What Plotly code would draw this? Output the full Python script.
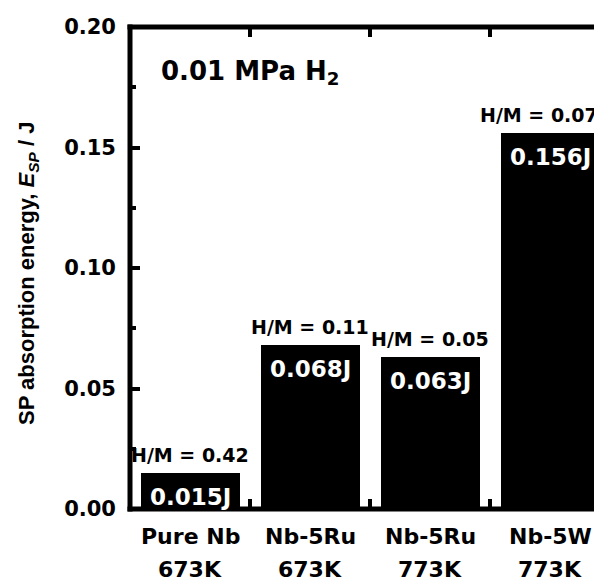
import plotly.graph_objects as go

# ---- data ----
alloys = ["Pure Nb", "Nb-5Ru", "Nb-5Ru", "Nb-5W"]
temps = ["673K", "673K", "773K", "773K"]
energy = [0.015, 0.068, 0.063, 0.156]
energy_labels = ["0.015J", "0.068J", "0.063J", "0.156J"]
hm_ratio = ["0.42", "0.11", "0.05", "0.07"]
y_ticks = [0.00, 0.05, 0.10, 0.15, 0.20]

xpos = list(range(len(alloys)))
# page body has an 8px default margin: size the figure to fill the visible window
W, H = 594, 573
L, R, T, B = 122, 0, 19, 72
pw = W - L - R
ph = H - T - B
BW = 0.825

HF = "DejaVu Sans"
AF = "Liberation Sans"

fig = go.Figure()
fig.add_trace(go.Bar(x=xpos, y=energy, width=BW,
                     marker=dict(color="black", line=dict(width=0)),
                     hoverinfo="skip", showlegend=False))

ann = []
last = len(xpos) - 1
for i, (v, lab, hm) in enumerate(zip(energy, energy_labels, hm_ratio)):
    # the label of the last bar is right-aligned to the bar so it stays in view
    hx, hanc = (i + BW / 2, "right") if i == last else (i, "center")
    ann.append(dict(x=hx, y=v, xref="x", yref="y", text=f"<b>H/M = {hm}</b>",
                    showarrow=False, xanchor=hanc, yanchor="bottom", yshift=5,
                    font=dict(family=HF, size=19, color="black")))
    ann.append(dict(x=i, y=v, xref="x", yref="y", text=f"<b>{lab}</b>",
                    showarrow=False, xanchor="center", yanchor="top", yshift=-9,
                    font=dict(family=HF, size=23, color="white")))
for i, (a, t) in enumerate(zip(alloys, temps)):
    ann.append(dict(x=i, y=0, xref="x", yref="paper", text=f"<b>{a}</b>",
                    showarrow=False, xanchor="center", yanchor="middle", yshift=-27,
                    font=dict(family=HF, size=22, color="black")))
    ann.append(dict(x=i, y=0, xref="x", yref="paper", text=f"<b>{t}</b>",
                    showarrow=False, xanchor="center", yanchor="middle", yshift=-60,
                    font=dict(family=HF, size=22, color="black")))

ann.append(dict(x=(151 - L) / pw, y=0.945, xref="paper", yref="paper",
                text="<b>0.01 MPa H<sub>2</sub></b>", showarrow=False,
                xanchor="left", yanchor="top",
                font=dict(family=HF, size=26, color="black")))
ann.append(dict(x=(4 - L) / pw, y=0.4876, xref="paper", yref="paper",
                text="<b>SP absorption energy, <i>E</i><sub><i>SP</i></sub> / J</b>",
                showarrow=False, textangle=-90, xanchor="left", yanchor="middle",
                font=dict(family=AF, size=22, color="black")))

lw = 5
ex = 2.5 / pw
ey = 2.5 / ph
shapes = [
    dict(type="line", xref="paper", yref="paper", x0=-ex, x1=1.0, y0=0, y1=0,
         line=dict(color="black", width=lw)),
    dict(type="line", xref="paper", yref="paper", x0=-ex, x1=1.0, y0=1, y1=1,
         line=dict(color="black", width=lw)),
    dict(type="line", xref="paper", yref="paper", x0=0, x1=0, y0=-ey, y1=1 + ey,
         line=dict(color="black", width=lw)),
]

fig.update_layout(
    width=W, height=H,
    margin=dict(l=L, r=R, t=T, b=B, pad=0),
    paper_bgcolor="white", plot_bgcolor="white",
    annotations=ann, shapes=shapes,
    bargap=0,
    xaxis=dict(range=[-0.5, -0.5 + pw / 120.0], tickmode="array",
               tickvals=[0.5, 1.5, 2.5], ticks="inside", ticklen=10, tickwidth=4,
               tickcolor="black", showticklabels=False, showline=False,
               showgrid=False, zeroline=False, mirror="ticks"),
    yaxis=dict(range=[0, 0.2], tickmode="array", tickvals=y_ticks,
               ticktext=[f"{v:.2f}" for v in y_ticks],
               ticks="inside", ticklen=10, tickwidth=4, tickcolor="black",
               showline=False, showgrid=False, zeroline=False,
               ticklabelstandoff=13,
               tickfont=dict(family=HF, size=21, color="black", weight="bold"),
               minor=dict(tickvals=[0.025, 0.075, 0.125, 0.175], ticks="inside",
                          ticklen=6, tickwidth=4, tickcolor="black", showgrid=False)),
)

fig.write_html("out.html")
